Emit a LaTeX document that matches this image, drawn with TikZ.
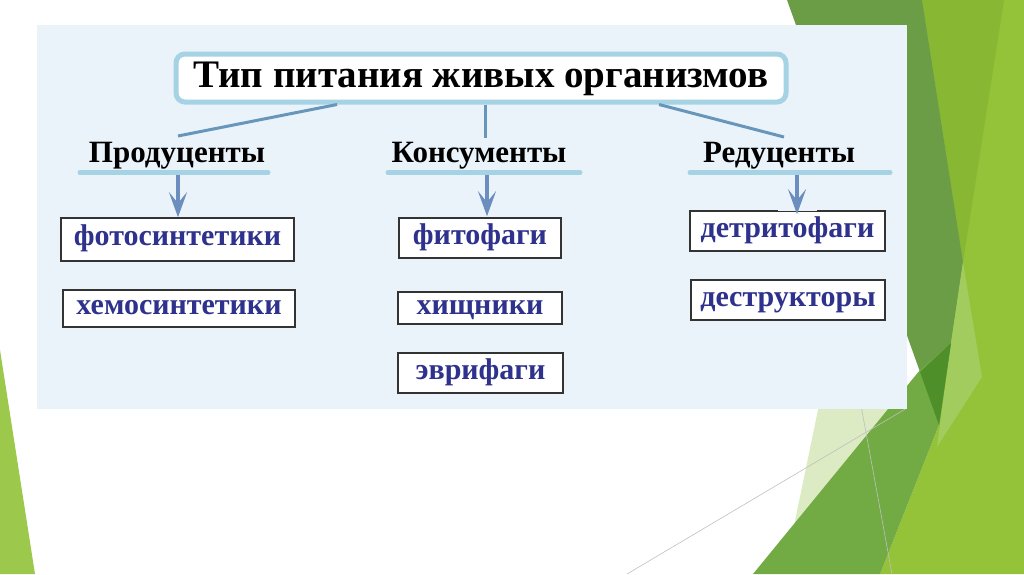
\documentclass[tikz,border=0pt]{standalone}
\usepackage{fontspec}
\setmainfont{Liberation Serif}
\usetikzlibrary{arrows.meta, positioning}
\definecolor{panelblue}{RGB}{234, 243, 250}
\definecolor{framecyan}{RGB}{166, 211, 227}
\definecolor{linkblue}{RGB}{104, 150, 186}
\definecolor{arrowblue}{RGB}{108, 142, 190}
\definecolor{termblue}{RGB}{46, 50, 140}
\definecolor{leafdark}{RGB}{107, 157, 71}
\definecolor{leafolive}{RGB}{136, 183, 51}
\definecolor{leafbright}{RGB}{148, 194, 56}
\definecolor{leafmid}{RGB}{114, 171, 68}
\definecolor{leafpale}{RGB}{220, 235, 196}
\definecolor{leafdeep}{RGB}{78, 143, 42}
\definecolor{leaflight}{RGB}{163, 204, 94}
\definecolor{leafleft}{RGB}{156, 200, 75}

\begin{document}
\begin{tikzpicture}[x=1pt, y=-1pt,
  titlebox/.style={draw=framecyan, line width=5pt, fill=white, rounded corners=9pt, minimum width=610pt, minimum height=48pt, inner sep=0pt, text height=18pt, text depth=0pt, font=\fontsize{39}{42}\selectfont\bfseries},
  grouplabel/.style={inner sep=0pt, anchor=base, font=\fontsize{31}{34}\selectfont\bfseries},
  termbox/.style={draw=black!80, line width=1.6pt, fill=white, inner sep=0pt, text height=12pt, text depth=0pt, text=termblue, font=\fontsize{30}{33}\selectfont\bfseries},
  bar/.style={draw=framecyan, line width=5pt, line cap=round},
  link/.style={draw=linkblue, line width=3pt},
  downarrow/.style={draw=arrowblue, line width=4pt, -{Stealth[length=25pt, width=18pt, inset=11pt]}}
]
  \useasboundingbox (0,0) rectangle (1024,574);

  % slide background
  \fill[leafbright] (900,0) -- (1024,0) -- (1024,574) -- (880,574) -- (939,425) -- cycle;
  \fill[leafolive] (922,0) -- (1004,0) -- (963,262) -- cycle;
  \fill[leafdark] (787,0) -- (922,0) -- (963,262) -- (951,343) -- (939,425) -- cycle;
  \fill[leaflight] (963,262) -- (982,377) -- (937,447) -- (951,343) -- cycle;
  \fill[leafpale] (820,400) -- (905,400) -- (790,545) -- cycle;
  \fill[leafmid] (753,574) -- (920,370) -- (951,343) -- (939,425) -- (880,574) -- cycle;
  \fill[leafdeep] (920,372) -- (951,343) -- (939,425) -- cycle;
  \draw[black!25, line width=0.6pt] (627,574) -- (907,408);
  \draw[black!25, line width=0.6pt] (860,400) -- (892,574);
  \fill[leafleft] (0,350) -- (35,574) -- (0,574) -- cycle;
  \fill[panelblue] (37,25) rectangle (907,409);

  \node[titlebox] (title) at (481,78) {Тип питания живых организмов};

  \node[grouplabel] (prod) at (177,162) {Продуценты};
  \node[grouplabel] (kons) at (479,162) {Консументы};
  \node[grouplabel] (redu) at (779,162) {Редуценты};

  \coordinate (prodL) at (80,172.5);  \coordinate (prodR) at (268,172.5);
  \coordinate (konsL) at (388,172.5); \coordinate (konsR) at (580,172.5);
  \coordinate (reduL) at (690,172.5); \coordinate (reduR) at (890,172.5);
  \draw[bar] (prodL) -- (prodR);
  \draw[bar] (konsL) -- (konsR);
  \draw[bar] (reduL) -- (reduR);

  \coordinate (prodend) at (178,136);
  \coordinate (konsend) at (485,138);
  \coordinate (reduend) at (784,137);
  \draw[link] ([xshift=-144pt]title.south) -- (prodend);
  \draw[link] ([xshift=4pt]title.south) -- (konsend);
  \draw[link] ([xshift=178pt]title.south) -- (reduend);

  \node[termbox, minimum width=233pt, minimum height=43pt] (foto) at (177.5,239.5) {фотосинтетики};
  \node[termbox, minimum width=232pt, minimum height=37pt] (hemo) at (179,308.5) {хемосинтетики};
  \node[termbox, minimum width=162pt, minimum height=40pt] (fito) at (480,238) {фитофаги};
  \node[termbox, minimum width=164pt, minimum height=32pt] (hisch) at (480,308) {хищники};
  \node[termbox, minimum width=165pt, minimum height=40pt] (evri) at (480.5,373) {эврифаги};
  \node[termbox, minimum width=195pt, minimum height=40pt] (detr) at (787.5,231) {детритофаги};
  \node[termbox, minimum width=194pt, minimum height=40pt] (destr) at (788,300) {деструкторы};

  \coordinate (prodfoot) at (178,175);
  \coordinate (konsfoot) at (487,175);
  \coordinate (redufoot) at (797,175);
  \draw[panelblue, line width=2.5pt] ([xshift=-19pt]redufoot |- detr.north) -- ([xshift=20pt]redufoot |- detr.north);
  \draw[downarrow] (prodfoot) -- (prodfoot |- foto.north);
  \draw[downarrow] (konsfoot) -- ([yshift=1pt]konsfoot |- fito.north);
  \draw[downarrow] (redufoot) -- ([yshift=-4pt]redufoot |- detr.north);
\end{tikzpicture}
\end{document}
